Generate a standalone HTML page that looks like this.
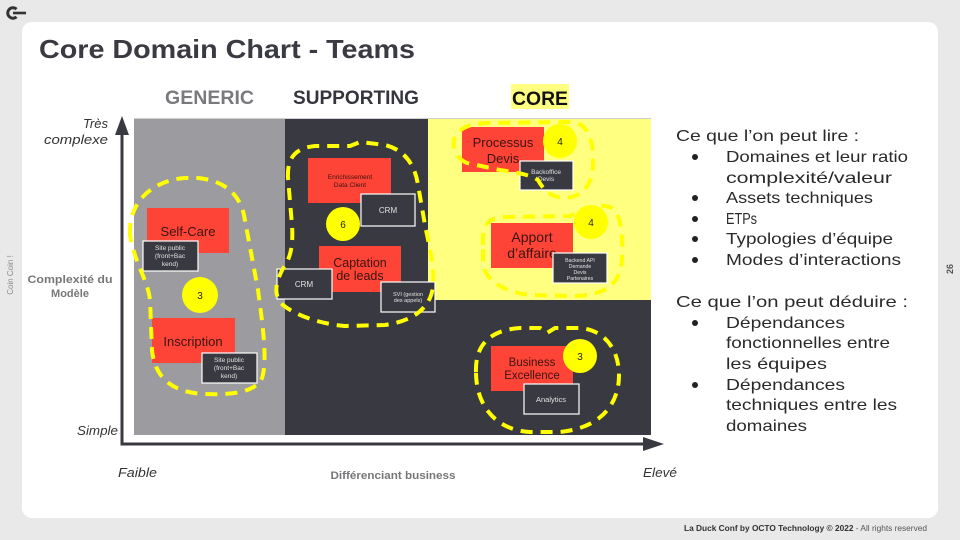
<!DOCTYPE html>
<html><head><meta charset="utf-8">
<style>
html,body{margin:0;padding:0;background:#e9e9e9;}
svg{display:block;}
text{font-family:"Liberation Sans",sans-serif;}
</style></head>
<body>
<svg width="960" height="540" viewBox="0 0 960 540" xmlns="http://www.w3.org/2000/svg">
<rect x="0" y="0" width="960" height="540" fill="#e9e9e9"/>
<!-- logo -->
<path d="M16.5,9.2 A5.2,5.2 0 1 0 16.5,16.8" fill="none" stroke="#333" stroke-width="3"/>
<line x1="13" y1="13" x2="26" y2="13" stroke="#333" stroke-width="2.6"/>
<!-- card -->
<rect x="22" y="22" width="916" height="496" rx="10" fill="#ffffff"/>
<!-- title -->
<text x="39" y="58" font-size="26" font-weight="bold" fill="#3a3a42" textLength="376" lengthAdjust="spacingAndGlyphs">Core Domain Chart - Teams</text>
<!-- headers -->
<text x="165" y="104" font-size="19" font-weight="bold" fill="#7a7a7e" textLength="89" lengthAdjust="spacingAndGlyphs">GENERIC</text>
<text x="293" y="104" font-size="19" font-weight="bold" fill="#35353d" textLength="126" lengthAdjust="spacingAndGlyphs">SUPPORTING</text>
<rect x="511" y="84" width="58" height="25" fill="#ffff80"/>
<text x="512" y="105" font-size="19" font-weight="bold" fill="#111" textLength="56" lengthAdjust="spacingAndGlyphs">CORE</text>

<!-- chart regions -->
<rect x="134" y="118" width="151" height="317" fill="#9c9b9f"/>
<rect x="285" y="118" width="143" height="317" fill="#393941"/>
<rect x="428" y="300" width="223" height="135" fill="#393941"/>
<rect x="428" y="118" width="223" height="182" fill="#ffff80"/>
<line x1="134" y1="118.5" x2="651" y2="118.5" stroke="#cfcfcf" stroke-width="1"/>

<!-- axes -->
<line x1="122" y1="132" x2="122" y2="444" stroke="#393941" stroke-width="3"/>
<polygon points="122,116 115,135 129,135" fill="#393941"/>
<line x1="120.5" y1="444" x2="646" y2="444" stroke="#393941" stroke-width="3"/>
<polygon points="664,444 643,437 643,451" fill="#393941"/>

<!-- axis labels -->
<text x="108" y="128" font-size="13" font-style="italic" fill="#333" text-anchor="end">Très</text>
<text x="108" y="144" font-size="13" font-style="italic" fill="#333" text-anchor="end" textLength="64" lengthAdjust="spacingAndGlyphs">complexe</text>
<text x="70" y="283" font-size="11" font-weight="bold" fill="#77777a" text-anchor="middle" textLength="85" lengthAdjust="spacingAndGlyphs">Complexité du</text>
<text x="70" y="297" font-size="11" font-weight="bold" fill="#77777a" text-anchor="middle">Modèle</text>
<text x="118" y="435" font-size="13" font-style="italic" fill="#333" text-anchor="end" textLength="41" lengthAdjust="spacingAndGlyphs">Simple</text>
<text x="118" y="477" font-size="13" font-style="italic" fill="#333" textLength="39" lengthAdjust="spacingAndGlyphs">Faible</text>
<text x="643" y="477" font-size="13" font-style="italic" fill="#333" textLength="34" lengthAdjust="spacingAndGlyphs">Elevé</text>
<text x="393" y="479" font-size="11" font-weight="bold" fill="#77777a" text-anchor="middle" textLength="125" lengthAdjust="spacingAndGlyphs">Différenciant business</text>

<!-- side texts -->
<text transform="translate(13,275) rotate(-90)" font-size="8" fill="#888" text-anchor="middle">Coin Coin !</text>
<text transform="translate(953,269) rotate(-90)" font-size="9" font-weight="bold" fill="#555" text-anchor="middle">26</text>

<!-- red boxes -->
<g fill="#fe4436">
<rect x="147" y="208" width="82" height="45"/>
<rect x="152" y="318" width="83" height="45"/>
<rect x="308" y="158" width="83" height="45"/>
<rect x="319" y="246" width="82" height="46"/>
<rect x="462" y="127" width="82" height="45"/>
<rect x="491" y="223" width="82" height="45"/>
<rect x="491" y="346" width="82" height="45"/>
</g>
<g fill="#3a1410" text-anchor="middle">
<text x="188" y="236" font-size="13">Self-Care</text>
<text x="193" y="346" font-size="13">Inscription</text>
<text x="350" y="179" font-size="6.5">Enrichissement</text>
<text x="350" y="187" font-size="6.5">Data Client</text>
<text x="360" y="267" font-size="12.5">Captation</text>
<text x="360" y="280" font-size="12.5">de leads</text>
<text x="503" y="147" font-size="13">Processus</text>
<text x="503" y="163" font-size="13">Devis</text>
<text x="532" y="242" font-size="14">Apport</text>
<text x="532" y="258" font-size="14">d’affaire</text>
<text x="532" y="366" font-size="11.5">Business</text>
<text x="532" y="379" font-size="11.5">Excellence</text>
</g>

<!-- dark boxes -->
<g fill="#393941" stroke="#ffffff" stroke-width="1.2">
<rect x="143" y="241" width="55" height="30"/>
<rect x="202" y="353" width="55" height="30"/>
<rect x="361" y="194" width="54" height="32"/>
<rect x="277" y="269" width="55" height="30"/>
<rect x="381" y="282" width="54" height="30"/>
<rect x="520" y="161" width="53" height="29"/>
<rect x="553" y="253" width="54" height="30"/>
<rect x="524" y="384" width="55" height="30"/>
</g>
<g fill="#e2e2e2" text-anchor="middle">
<text x="170" y="250" font-size="6.5">Site public</text>
<text x="170" y="258" font-size="6.5">(front+Bac</text>
<text x="170" y="266" font-size="6.5">kend)</text>
<text x="229" y="362" font-size="6.5">Site public</text>
<text x="229" y="370" font-size="6.5">(front+Bac</text>
<text x="229" y="378" font-size="6.5">kend)</text>
<text x="388" y="213" font-size="8">CRM</text>
<text x="304" y="287" font-size="8">CRM</text>
<text x="408" y="296" font-size="5.5">SVI (gestion</text>
<text x="408" y="302" font-size="5.5">des appels)</text>
<text x="546" y="174" font-size="6.5">Backoffice</text>
<text x="546" y="181" font-size="6.5">Devis</text>
<text x="580" y="262" font-size="5.2">Backend API</text>
<text x="580" y="268" font-size="5.2">Demande</text>
<text x="580" y="274" font-size="5.2">Devis</text>
<text x="580" y="280" font-size="5.2">Partenaires</text>
<text x="551" y="402" font-size="7.5">Analytics</text>
</g>

<!-- dashed loops -->
<g fill="none" stroke="#ffff00" stroke-width="4" stroke-dasharray="12 8">
<path d="M130,235 C128,200 155,180 185,178 C215,176 238,188 244,215 L258,290 C262,320 268,360 262,378 C255,393 230,395 205,394 C175,393 155,380 152,350 L150,300 C148,280 135,265 130,235 Z"/>
<path d="M288,178 C287,158 295,148 315,146 L350,146 L360,142 L385,145 C405,150 415,165 418,185 L425,225 C430,250 438,280 430,298 C422,315 405,322 385,325 L345,326 C320,324 295,315 283,305 C272,295 276,280 285,265 C292,255 293,240 292,225 Z"/>
<path d="M467,163 C455,158 450,145 456,135 C462,126 475,123 490,123 L570,122 C585,122 592,135 593,155 C594,175 590,192 572,197 C555,200 545,193 538,180 C530,175 520,173 500,170 Z"/>
<path d="M483,245 C482,225 488,217 505,217 L570,216 C585,210 600,202 612,208 C622,215 623,240 622,260 C620,285 605,295 575,296 L530,295 C505,292 487,282 483,265 Z"/>
<path d="M476,372 C475,345 490,330 520,328 L540,328 L547,333 L555,328 L580,328 C605,330 619,350 619,375 C619,405 600,428 560,432 L530,432 C495,430 476,405 476,372 Z"/>
</g>

<!-- circles -->
<g fill="#ffff00">
<circle cx="200" cy="295" r="18"/>
<circle cx="343" cy="224" r="17"/>
<circle cx="560" cy="141" r="17"/>
<circle cx="591" cy="222" r="17"/>
<circle cx="580" cy="356" r="17"/>
</g>
<g fill="#222" font-size="10" text-anchor="middle">
<text x="200" y="299">3</text>
<text x="343" y="228">6</text>
<text x="560" y="145">4</text>
<text x="591" y="226">4</text>
<text x="580" y="360">3</text>
</g>

<!-- right text -->
<g fill="#2a2a2a" font-size="16">
<text x="676" y="141" textLength="183" lengthAdjust="spacingAndGlyphs">Ce que l’on peut lire :</text>
<text x="726" y="162" textLength="182" lengthAdjust="spacingAndGlyphs">Domaines et leur ratio</text>
<text x="726" y="183" textLength="166" lengthAdjust="spacingAndGlyphs">complexité/valeur</text>
<text x="726" y="203" textLength="147" lengthAdjust="spacingAndGlyphs">Assets techniques</text>
<text x="726" y="224" textLength="31" lengthAdjust="spacingAndGlyphs">ETPs</text>
<text x="726" y="244" textLength="167" lengthAdjust="spacingAndGlyphs">Typologies d’équipe</text>
<text x="726" y="265" textLength="175" lengthAdjust="spacingAndGlyphs">Modes d’interactions</text>
<text x="676" y="307" textLength="232" lengthAdjust="spacingAndGlyphs">Ce que l’on peut déduire :</text>
<text x="726" y="328" textLength="119" lengthAdjust="spacingAndGlyphs">Dépendances</text>
<text x="726" y="348" textLength="164" lengthAdjust="spacingAndGlyphs">fonctionnelles entre</text>
<text x="726" y="369" textLength="101" lengthAdjust="spacingAndGlyphs">les équipes</text>
<text x="726" y="390" textLength="119" lengthAdjust="spacingAndGlyphs">Dépendances</text>
<text x="726" y="410" textLength="171" lengthAdjust="spacingAndGlyphs">techniques entre les</text>
<text x="726" y="431" textLength="81" lengthAdjust="spacingAndGlyphs">domaines</text>
</g>
<g fill="#222">
<circle cx="695" cy="157" r="3"/>
<circle cx="695" cy="198" r="3"/>
<circle cx="695" cy="219" r="3"/>
<circle cx="695" cy="239" r="3"/>
<circle cx="695" cy="260" r="3"/>
<circle cx="695" cy="323" r="3"/>
<circle cx="695" cy="385" r="3"/>
</g>

<!-- footer -->
<text x="684" y="531" font-size="8" fill="#333" textLength="243" lengthAdjust="spacingAndGlyphs"><tspan font-weight="bold">La Duck Conf by OCTO Technology  © 2022</tspan><tspan fill="#555"> - All rights reserved</tspan></text>
</svg>
</body></html>
